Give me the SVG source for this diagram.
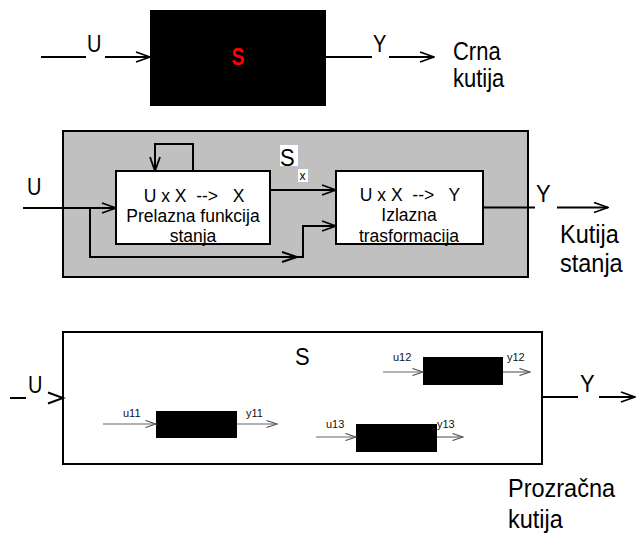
<svg xmlns="http://www.w3.org/2000/svg" width="636" height="533" viewBox="0 0 636 533">
<style>
text{font-family:"Liberation Sans",Arial,sans-serif;fill:#000}
.ln{fill:none;stroke:#000;stroke-width:2}
.thin{fill:none;stroke:#666;stroke-width:1.2}
.box{fill:#fff;stroke:#000;stroke-width:2}
.blk{fill:#000}
.t20{font-size:20px}
.t22{font-size:22px}
.t24{font-size:23.5px}
.t17{font-size:17.5px}
.sm{font-size:11px;fill:#111}
.mid{text-anchor:middle}
</style>
<defs>
<marker id="ah" viewBox="0 0 16 12" refX="15" refY="6" markerWidth="16" markerHeight="12" markerUnits="userSpaceOnUse" orient="auto">
<path d="M1,1 L15,6 L1,11" fill="none" stroke="#000" stroke-width="1.8"/>
</marker>
<marker id="sah" viewBox="0 0 12 8" refX="11" refY="4" markerWidth="12" markerHeight="8" markerUnits="userSpaceOnUse" orient="auto">
<path d="M0.5,0.5 L11,4 L0.5,7.5" fill="none" stroke="#555" stroke-width="1.2"/>
</marker>
</defs>
<rect width="636" height="533" fill="#fff"/>

<!-- Top: black box -->
<g id="crna-kutija">
<rect x="150" y="10" width="176" height="96" class="blk"/>
<text transform="translate(238,65) scale(1,1.2)" class="mid" style="font-size:19.5px;font-weight:bold;fill:#f00">S</text>
</g>
<g id="connectors-top">
<line x1="41" y1="57" x2="86" y2="57" class="ln"/>
<line x1="105" y1="57" x2="150" y2="57" class="ln" marker-end="url(#ah)"/>
<line x1="326" y1="57" x2="372" y2="57" class="ln"/>
<line x1="389" y1="57" x2="434" y2="57" class="ln" marker-end="url(#ah)"/>
</g>
<text transform="translate(87,52) scale(1,1.18)" class="t20">U</text>
<text transform="translate(373,52) scale(1,1.18)" class="t20">Y</text>
<text transform="translate(453,60) scale(1,1.15)" class="t22">Crna</text>
<text transform="translate(453,87) scale(1,1.15)" class="t22">kutija</text>

<!-- Middle: state box -->
<g id="kutija-stanja">
<rect x="63" y="131" width="465" height="146" fill="#c0c0c0" stroke="#000" stroke-width="2"/>
<rect x="280" y="145" width="18" height="21" fill="#fff"/>
<rect x="298" y="169" width="10" height="13" fill="#fff"/>
<text transform="translate(280,166) scale(1,1.1)" class="t22">S</text>
<text x="299.5" y="180" style="font-size:12px">x</text>
</g>
<g id="prelazna">
<rect x="116" y="171" width="154" height="73" class="box"/>
<text x="194" y="202" class="t17 mid" xml:space="preserve">U x X  -->   X</text>
<text x="193" y="222" class="t17 mid">Prelazna funkcija</text>
<text x="193" y="242" class="t17 mid">stanja</text>
</g>
<g id="izlazna">
<rect x="336" y="171" width="147" height="73" class="box"/>
<text x="410" y="201" class="t17 mid" xml:space="preserve">U x X  -->   Y</text>
<text x="409" y="221" class="t17 mid">Izlazna</text>
<text x="409" y="242" class="t17 mid">trasformacija</text>
</g>
<g id="connectors-mid">
<line x1="23" y1="208" x2="116" y2="208" class="ln" marker-end="url(#ah)"/>
<path d="M193,171 V144 H155 V171" class="ln" marker-end="url(#ah)"/>
<path d="M90,208 V257 H303 V226 H336" class="ln" marker-end="url(#ah)"/>
<path d="M282,252 L297,257 L282,262" class="ln" stroke-width="1.8"/>
<line x1="270" y1="190" x2="336" y2="190" class="ln" marker-end="url(#ah)"/>
<line x1="483" y1="207.5" x2="535" y2="207.5" class="ln"/>
<line x1="557" y1="207.5" x2="608" y2="207.5" class="ln" marker-end="url(#ah)"/>
</g>
<text transform="translate(27,195) scale(1,1.15)" class="t20">U</text>
<text transform="translate(536,202) scale(1,1.12)" class="t22">Y</text>
<text transform="translate(560,243) scale(1,1.1)" class="t24">Kutija</text>
<text transform="translate(560,272) scale(1,1.1)" class="t24">stanja</text>

<!-- Bottom: transparent box -->
<g id="prozracna-kutija">
<rect x="63" y="332" width="479" height="132" fill="#fff" stroke="#000" stroke-width="2"/>
<text transform="translate(295,365) scale(1,1.12)" class="t22">S</text>
</g>
<g id="blok11">
<rect x="156" y="411" width="81" height="27" class="blk"/>
<text x="123" y="417" class="sm">u11</text>
<text x="246" y="417" class="sm">y11</text>
</g>
<g id="blok12">
<rect x="423" y="357" width="80" height="28" class="blk"/>
<text x="393" y="361" class="sm">u12</text>
<text x="507" y="361" class="sm">y12</text>
</g>
<g id="blok13">
<rect x="356" y="424" width="81" height="28" class="blk"/>
<text x="326" y="428" class="sm">u13</text>
<text x="437" y="428" class="sm">y13</text>
</g>
<g id="connectors-bottom">
<line x1="10" y1="398" x2="26" y2="398" class="ln"/>
<path d="M48,392.5 L63,398 L48,403.5" class="ln" stroke-width="1.8"/>
<line x1="542" y1="397" x2="578" y2="397" class="ln"/>
<line x1="599" y1="397" x2="635" y2="397" class="ln" marker-end="url(#ah)"/>
<line x1="103" y1="424" x2="156" y2="424" class="thin" marker-end="url(#sah)"/>
<line x1="237" y1="424" x2="277" y2="424" class="thin" marker-end="url(#sah)"/>
<line x1="383" y1="372" x2="423" y2="372" class="thin" marker-end="url(#sah)"/>
<line x1="503" y1="372" x2="530" y2="372" class="thin" marker-end="url(#sah)"/>
<line x1="316" y1="437" x2="356" y2="437" class="thin" marker-end="url(#sah)"/>
<line x1="437" y1="437" x2="463" y2="437" class="thin" marker-end="url(#sah)"/>
</g>
<text transform="translate(28,393) scale(1,1.15)" class="t20">U</text>
<text transform="translate(580,392) scale(1,1.12)" class="t22">Y</text>
<text transform="translate(508,497) scale(1,1.08)" class="t24">Prozračna</text>
<text transform="translate(508,528) scale(1,1.08)" class="t24">kutija</text>
</svg>
